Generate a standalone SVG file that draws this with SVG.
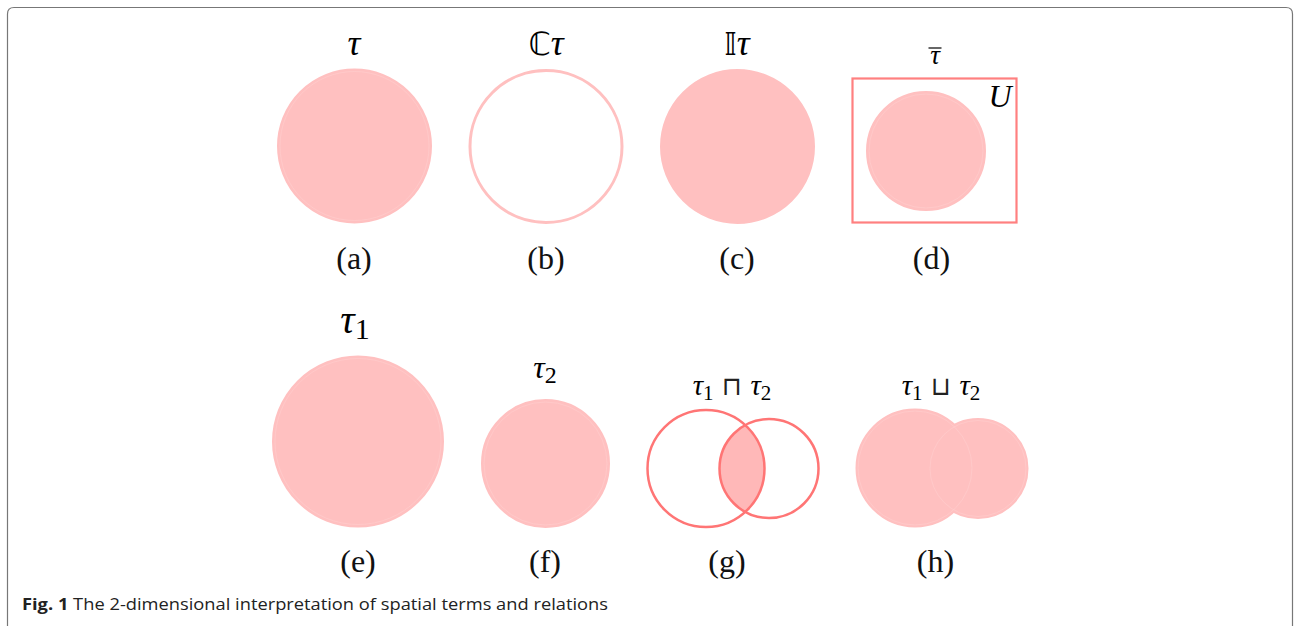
<svg xmlns="http://www.w3.org/2000/svg" width="1296" height="626" viewBox="0 0 1296 626">
<style>
.fill{fill:#ffc0c0;stroke:#ffc0c0;stroke-width:2}
.ring{fill:none;stroke:#ffcfcf;stroke-width:0.6}
.math{font-family:"Liberation Serif","DejaVu Serif",serif;font-style:italic;fill:#000;text-anchor:middle}
.sym{font-family:"DejaVu Sans",sans-serif;font-style:normal}
.rm{font-family:"Liberation Serif","DejaVu Serif",serif;font-style:normal}
.lab{font-family:"Liberation Serif","DejaVu Serif",serif;font-size:32px;fill:#111;text-anchor:middle}
.red{fill:none;stroke:#ff7575;stroke-width:2.5}
</style>
<defs>
<clipPath id="clipG"><circle cx="706" cy="468.5" r="59"/></clipPath>
</defs>
<rect width="1296" height="626" fill="#fff"/>
<path d="M7.5,626 V14 Q7.5,7.5 14,7.5 H1286 Q1292.5,7.5 1292.5,14 V626" fill="none" stroke="#777" stroke-width="1.2"/>

<g id="a">
<text class="math" x="354" y="55" font-size="36">τ</text>
<circle class="fill" cx="354.5" cy="146" r="76.5"/>
<circle class="ring" cx="354.5" cy="146" r="74.5"/>
<text class="lab" x="354" y="269">(a)</text>
</g>

<g id="b">
<text class="math" x="546" y="55" font-size="36"><tspan class="sym" font-size="32">ℂ</tspan>τ</text>
<circle cx="546" cy="146.5" r="76" fill="#fff" stroke="#ffc0c0" stroke-width="3"/>
<text class="lab" x="546" y="269">(b)</text>
</g>

<g id="c">
<text class="math" x="737" y="55" font-size="36"><tspan class="sym" font-size="32">𝕀</tspan>τ</text>
<circle class="fill" cx="737.5" cy="146.5" r="76.5"/>
<text class="lab" x="737" y="269">(c)</text>
</g>

<g id="d">
<text class="math" x="935" y="64" font-size="27">τ</text>
<line x1="928.5" y1="48" x2="941.5" y2="48" stroke="#000" stroke-width="1.2"/>
<rect x="852.5" y="78.5" width="164" height="144" fill="none" stroke="#ff8080" stroke-width="2.2"/>
<circle class="fill" cx="926" cy="151" r="59"/>
<circle class="ring" cx="926" cy="151" r="57"/>
<text class="math" x="1000" y="107" font-size="32">U</text>
<text class="lab" x="931.5" y="269">(d)</text>
</g>

<g id="e">
<text class="math" x="355" y="333" font-size="40">τ<tspan class="rm" font-size="30" dy="6">1</tspan></text>
<circle class="fill" cx="358" cy="441.5" r="85"/>
<circle class="ring" cx="358" cy="441.5" r="83"/>
<text class="lab" x="358" y="572">(e)</text>
</g>

<g id="f">
<text class="math" x="545" y="378" font-size="32">τ<tspan class="rm" font-size="24" dy="5">2</tspan></text>
<circle class="fill" cx="545.5" cy="463.5" r="63.5"/>
<circle class="ring" cx="545.5" cy="463.5" r="61.5"/>
<text class="lab" x="545" y="572">(f)</text>
</g>

<g id="g">
<text class="math" x="732" y="395" font-size="29">τ<tspan class="rm" font-size="21" dy="5">1</tspan><tspan class="sym" font-size="26" dy="-5" fill="#222"> ⊓ </tspan>τ<tspan class="rm" font-size="21" dy="5">2</tspan></text>
<circle cx="769" cy="468.5" r="49.5" fill="#ffb8b8" clip-path="url(#clipG)"/>
<circle class="red" cx="706" cy="468.5" r="58.5"/>
<circle class="red" cx="769" cy="468.5" r="49.5"/>
<text class="lab" x="727" y="572">(g)</text>
</g>

<g id="h">
<text class="math" x="941" y="395" font-size="29">τ<tspan class="rm" font-size="21" dy="5">1</tspan><tspan class="sym" font-size="26" dy="-5" fill="#222"> ⊔ </tspan>τ<tspan class="rm" font-size="21" dy="5">2</tspan></text>
<circle class="fill" cx="915" cy="468" r="58.5"/>
<circle class="fill" cx="978" cy="468.5" r="49.5"/>
<circle class="ring" cx="915" cy="468" r="57"/>
<circle class="ring" cx="978" cy="468.5" r="48"/>
<text class="lab" x="935.5" y="572">(h)</text>
</g>

<g id="caption">
<text x="22" y="610" font-family="'Open Sans','Noto Sans',sans-serif" font-size="15.5" fill="#222" textLength="586" lengthAdjust="spacingAndGlyphs"><tspan font-weight="bold">Fig. 1</tspan> The 2-dimensional interpretation of spatial terms and relations</text>
</g>
</svg>
